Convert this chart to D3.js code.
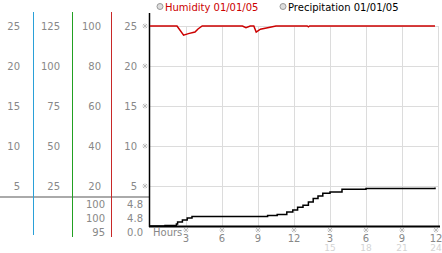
<!doctype html>
<meta charset="utf-8">
<title>Humidity / Precipitation</title>
<script src="https://cdn.jsdelivr.net/npm/d3@7"></script>
<style>
  body { margin: 0; background: #fff; }
  text { font-family: "DejaVu Sans", sans-serif; font-size: 10px; }
</style>
<body>
<script>

// left-hand scale columns (values at the 25/20/15/10/5 gridlines)
var scaleTicks = [25, 20, 15, 10, 5]
  , col1 = [25, 20, 15, 10, 5]
  , col2 = [125, 100, 75, 50, 25]
  , col3 = [100, 80, 60, 40, 20]
  , col4 = [25, 20, 15, 10, 5];

// current / max / min readouts under the columns
var humStats = ['100', '100', '95']
  , precipStats = ['4.8', '4.8', '0.0'];

// x axis
var hourTicks = [3, 6, 9, 12, 15, 18, 21, 24]
  , hourLabels = ['3', '6', '9', '12', '3', '6', '9', '12']
  , hourLabels2 = ['', '', '', '', '15', '18', '21', '24'];

// humidity (%) by hour
var humHours = [0, 2.25, 2.8, 3.2, 3.75, 4.0, 4.35, 7.7, 8.0, 8.35, 8.65, 8.85, 9.2, 10.0, 10.5, 13.1, 13.2, 13.3, 23.75]
  , humValues = [100, 100, 95.4, 96.2, 97, 98.5, 100, 100, 99.2, 100, 100, 97, 98.4, 99.4, 100, 100, 99.6, 100, 100];

// accumulated precipitation by hour
var precipHours = [0, 1.25, 2.2, 2.3, 2.7, 3.1, 3.5, 9.8, 10.6, 11.4, 11.9, 12.3, 12.75, 13.2, 13.6, 14.0, 14.4, 15.0, 16.0, 18.0, 23.75]
  , precipValues = [0, 0.05, 0.25, 0.5, 0.75, 1.0, 1.2, 1.3, 1.45, 1.75, 2.0, 2.35, 2.6, 3.0, 3.45, 3.75, 4.1, 4.25, 4.6, 4.7, 4.8];

var W = 442, H = 253;
var svg = d3.select('body').append('svg').attr('width', W).attr('height', H);

var x = d3.scaleLinear().domain([0, 24]).range([150, 438])
  , y = d3.scaleLinear().domain([0, 25]).range([226, 26]);

// tiny hatched tick glyph
function glyph(sel) {
  sel.append('path')
    .attr('d', 'M-2,-2L2,2M2,-2L-2,2M0,-2.5L0,-1.5M0,1.5L0,2.5M-2.5,0L-1.5,0M1.5,0L2.5,0')
    .style('stroke', '#aaa').style('stroke-width', 0.8).style('fill', 'none');
}

// grid
svg.append('g').selectAll('line.h').data(scaleTicks).enter().append('line')
  .attr('x1', x(0)).attr('x2', x(24))
  .attr('y1', function(d) { return y(d) + 0.5 }).attr('y2', function(d) { return y(d) + 0.5 })
  .style('stroke', '#dcdcdc');
svg.append('g').selectAll('line.v').data(hourTicks).enter().append('line')
  .attr('x1', function(d) { return Math.round(x(d)) + 0.5 }).attr('x2', function(d) { return Math.round(x(d)) + 0.5 })
  .attr('y1', y(25)).attr('y2', y(0))
  .style('stroke', '#dcdcdc');

// gray divider on the left and column rules
svg.append('line').attr('x1', 0).attr('x2', 149).attr('y1', 197).attr('y2', 197)
  .style('stroke', '#aaa').style('stroke-width', 2);
[[33, '#2aa0d8', 235], [72, '#22a022', 237], [111, '#c82828', 237]].forEach(function(c) {
  svg.append('line').attr('x1', c[0] + 0.5).attr('x2', c[0] + 0.5).attr('y1', 12).attr('y2', c[2])
    .style('stroke', c[1]);
});

// column labels
function column(vals, xr) {
  svg.append('g').selectAll('text').data(vals).enter().append('text')
    .attr('x', xr).attr('y', function(d, i) { return y(scaleTicks[i]) + 4 })
    .attr('text-anchor', 'end').style('fill', '#888')
    .text(function(d) { return d });
}
column(col1, 20);
column(col2, 60);
column(col3, 101);
column(col4, 137);

function stats(vals, xr) {
  svg.append('g').selectAll('text').data(vals).enter().append('text')
    .attr('x', xr).attr('y', function(d, i) { return 208 + i * 14 })
    .attr('text-anchor', 'end').style('fill', '#888')
    .text(function(d) { return d });
}
stats(humStats, 105);
stats(precipStats, 143);

// tick glyphs on the y axis
svg.append('g').selectAll('g').data(scaleTicks).enter().append('g')
  .attr('transform', function(d) { return 'translate(145,' + y(d) + ')' })
  .call(glyph);

// axes
svg.append('line').attr('x1', 149.5).attr('x2', 149.5).attr('y1', 13).attr('y2', 227)
  .style('stroke', '#000').style('stroke-width', 1.5);
svg.append('line').attr('x1', 149).attr('x2', 440).attr('y1', 226.5).attr('y2', 226.5)
  .style('stroke', '#000').style('stroke-width', 2);

// x labels
svg.append('text').attr('x', 153).attr('y', 236).style('fill', '#888').text('Hours');
var xt = svg.append('g').selectAll('g').data(hourTicks).enter().append('g')
  .attr('transform', function(d) { return 'translate(' + (d === 24 ? x(d) - 2 : x(d)) + ',0)' });
xt.append('g').attr('transform', 'translate(0,230)').call(glyph);
xt.append('text').attr('y', 241.5).attr('text-anchor', 'middle')
  .style('fill', '#888').text(function(d, i) { return hourLabels[i] });
xt.append('text').attr('y', 251).attr('text-anchor', 'middle')
  .style('font-size', '9px').style('fill', '#d4d4d4').text(function(d, i) { return hourLabels2[i] });

// series
var humLine = d3.line()
  .x(function(d) { return x(d[0]) })
  .y(function(d) { return y(d[1] / 4) });
svg.append('path').datum(humHours.map(function(h, i) { return [h, humValues[i]] }))
  .attr('d', humLine).style('fill', 'none').style('stroke', '#cc0000').style('stroke-width', 1.5);

var precipLine = d3.line()
  .curve(d3.curveStepAfter)
  .x(function(d) { return x(d[0]) })
  .y(function(d) { return y(d[1]) });
svg.append('path').datum(precipHours.map(function(h, i) { return [h, precipValues[i]] }))
  .attr('d', precipLine).style('fill', 'none').style('stroke', '#000').style('stroke-width', 1.5);

// legend
[[160, 'Humidity 01/01/05', '#cc0000'], [283, 'Precipitation 01/01/05', '#000']].forEach(function(l) {
  svg.append('circle').attr('cx', l[0]).attr('cy', 6.5).attr('r', 3)
    .style('fill', '#ddd').style('stroke', '#999');
  svg.append('text').attr('x', l[0] + 5).attr('y', 10.5).style('fill', l[2]).text(l[1]);
});

</script>
</body>
